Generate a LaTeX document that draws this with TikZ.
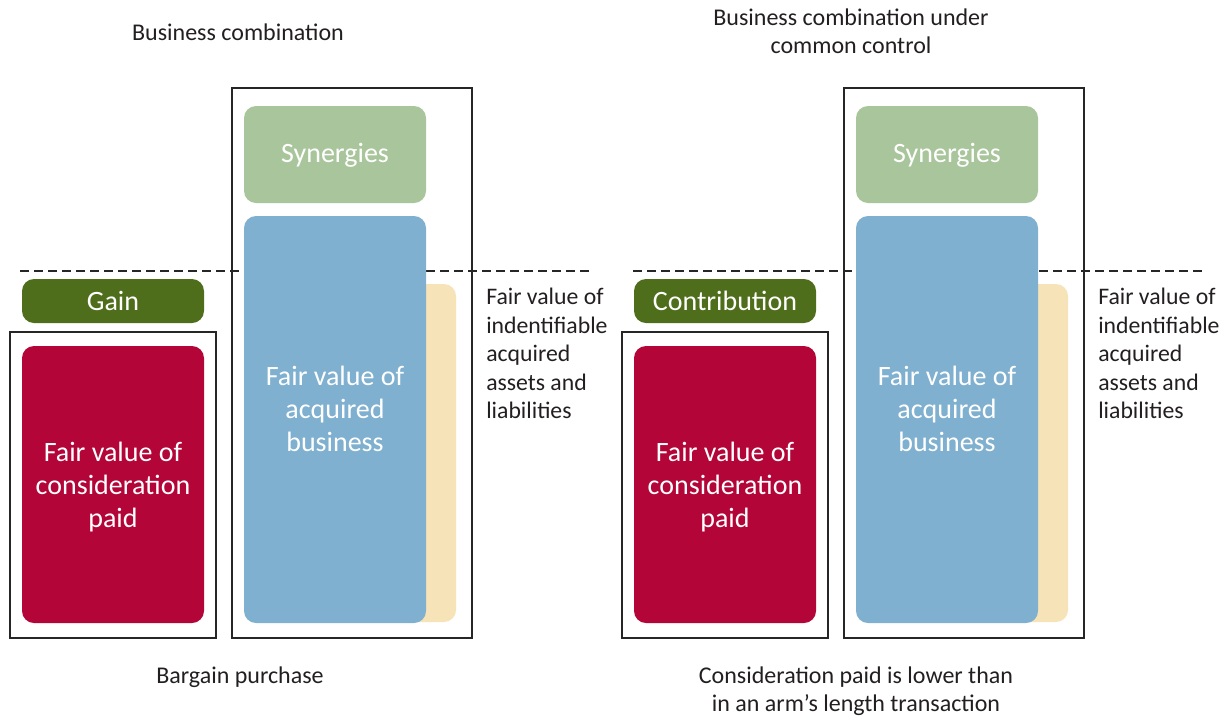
\documentclass[tikz,border=0pt]{standalone}
\usepackage{fontspec}
\setmainfont{Carlito}
\usepackage{xcolor}
\usetikzlibrary{positioning}
\definecolor{framegray}{HTML}{262626}
\definecolor{textgray}{HTML}{231F20}
\definecolor{synergygreen}{HTML}{A9C59B}
\definecolor{gaingreen}{HTML}{4F6E1B}
\definecolor{paidred}{HTML}{B30538}
\definecolor{bizblue}{HTML}{7FB0CF}
\definecolor{netbeige}{HTML}{F7E3B8}
\tikzset{
  frame/.style={draw=framegray,line width=1.5pt},
  block/.style={rounded corners=9pt},
  intext/.style={text=white,align=center,font=\fontsize{21}{24.75}\selectfont},
  sidetext/.style={text=textgray,align=left,anchor=north west,inner sep=0pt,
    font=\fontsize{17.8}{21.4}\selectfont},
  captext/.style={text=textgray,align=center,font=\fontsize{18}{21}\selectfont}
}

\begin{document}
\begin{tikzpicture}[x=0.75pt,y=-0.75pt]
\useasboundingbox (0,0) rectangle (1231,718);
% level of the acquired net assets
\draw[framegray,line width=1.4pt,dash pattern=on 6.5pt off 4pt] (20,271) -- (590,271);
\draw[framegray,line width=1.4pt,dash pattern=on 6.5pt off 4pt] (633,271) -- (1203,271);

% left: bargain purchase
\node[captext] (titleL) at (238,32) {Business combination};
\draw[frame] (232,88) rectangle (472,638);
\draw[frame] (10,332) rectangle (216,638);
\fill[block,synergygreen] (244,106) rectangle (426,203);
\node[intext] (synL) at (335,155) {Synergies};
\fill[block,netbeige] (390,284) rectangle (456,622);
\fill[block,bizblue] (244,216) rectangle (426,623);
\node[intext] (bizL) at (335,409) {Fair value of\\acquired\\business};
\fill[block,gaingreen] (22,279) rectangle (204,323);
\node[intext] (gainL) at (113,301) {Gain};
\fill[block,paidred] (22,346) rectangle (204,623);
\node[intext] (paidL) at (113,487) {Fair value of\\consideration\\paid};
\node[sidetext] (netL) at (486,288) {Fair value of\\indentifiable\\acquired\\assets and\\liabilities};
\node[captext] (capL) at (240,677) {Bargain purchase};

% right: common control
\node[captext] (titleR) at (851,31) {Business combination under\\common control};
\draw[frame] (844,88) rectangle (1084,638);
\draw[frame] (622,332) rectangle (828,638);
\fill[block,synergygreen] (856,106) rectangle (1038,203);
\node[intext] (synR) at (947,155) {Synergies};
\fill[block,netbeige] (1002,284) rectangle (1068,622);
\fill[block,bizblue] (856,216) rectangle (1038,623);
\node[intext] (bizR) at (947,409) {Fair value of\\acquired\\business};
\fill[block,gaingreen] (634,279) rectangle (816,323);
\node[intext] (contribR) at (725,301) {Contribution};
\fill[block,paidred] (634,346) rectangle (816,623);
\node[intext] (paidR) at (725,487) {Fair value of\\consideration\\paid};
\node[sidetext] (netR) at (1098,288) {Fair value of\\indentifiable\\acquired\\assets and\\liabilities};
\node[captext] (capR) at (856,691) {Consideration paid is lower than\\in an arm’s length transaction};
\end{tikzpicture}
\end{document}
